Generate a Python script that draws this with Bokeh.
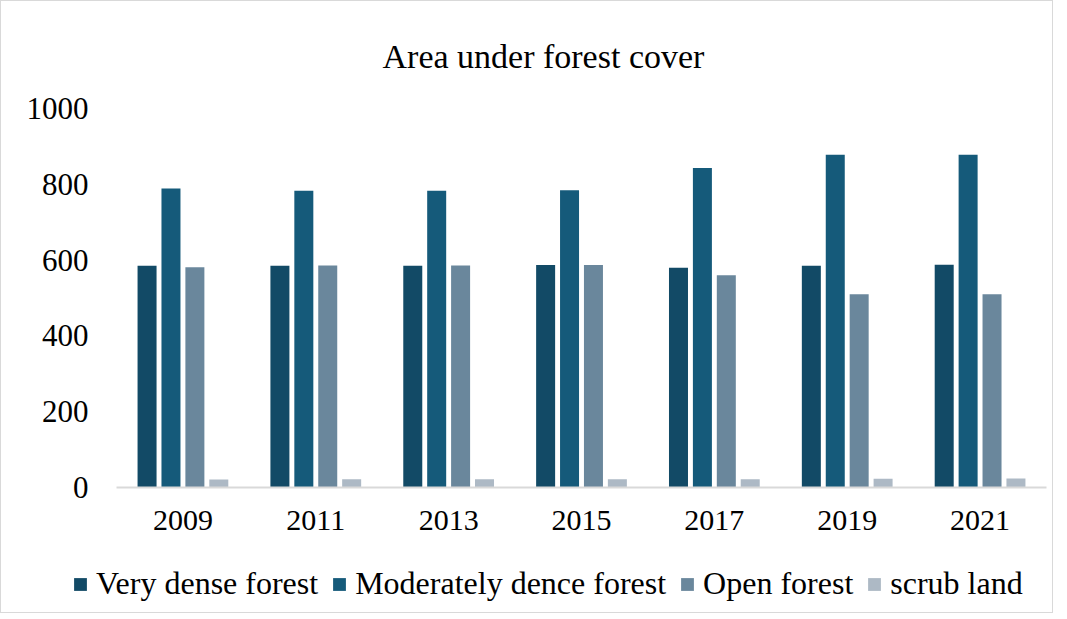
from bokeh.plotting import figure
from bokeh.models import ColumnDataSource, FactorRange, Range1d, Legend, LegendItem, SingleIntervalTicker
from bokeh.layouts import column
from bokeh.transform import dodge
from bokeh.embed import file_html
from bokeh.resources import INLINE

years = ["2009", "2011", "2013", "2015", "2017", "2019", "2021"]
very_dense = [585, 585, 585, 587, 580, 585, 588]
moderately_dense = [789, 783, 783, 784, 843, 878, 878]
open_forest = [581, 586, 586, 587, 560, 510, 510]
scrub_land = [21, 22, 22, 22, 22, 23, 24]

series_names = ["Very dense forest", "Moderately dence forest", "Open forest", "scrub land"]
colors = ["#124A66", "#155A7A", "#6A879C", "#ADB9C5"]

source = ColumnDataSource(data=dict(years=years, vd=very_dense, md=moderately_dense,
                                    of=open_forest, sl=scrub_land))

FONT = "Liberation Serif"

p = figure(x_range=FactorRange(*years, range_padding=0), y_range=Range1d(0, 1000),
           width=1051, height=540, output_backend="svg", toolbar_location=None,
           min_border_left=115, min_border_right=6, min_border_top=105, min_border_bottom=54)
p.frame_align = False

p.title.text = "Area under forest cover"
p.title.align = "left"
p.title.offset = 266
p.title.text_font = FONT
p.title.text_font_style = "normal"
p.title.text_font_size = "34px"
p.title.text_color = "#000000"
p.title.standoff = 68

cols = ["vd", "md", "of", "sl"]
offsets = [-0.27, -0.09, 0.09, 0.27]
for c, off, col in zip(cols, offsets, colors):
    p.vbar(x=dodge("years", off, range=p.x_range), top=c, width=0.143, source=source,
           fill_color=col, line_color=None)

p.xgrid.grid_line_color = None
p.ygrid.grid_line_color = None
p.outline_line_color = None

p.yaxis.ticker = SingleIntervalTicker(interval=200)
p.yaxis.axis_line_color = None
p.yaxis.major_tick_line_color = None
p.yaxis.minor_tick_line_color = None
p.yaxis.major_label_text_font = FONT
p.yaxis.major_label_text_font_size = "31px"
p.yaxis.major_label_text_color = "#000000"
p.yaxis.major_label_standoff = 22

p.xaxis.axis_line_color = "#D9D9D9"
p.xaxis.axis_line_width = 2
p.xaxis.major_tick_line_color = None
p.xaxis.minor_tick_line_color = None
p.xaxis.major_label_text_font = FONT
p.xaxis.major_label_text_font_size = "30px"
p.xaxis.major_label_text_color = "#000000"
p.xaxis.major_label_standoff = 17

# legend strip below the chart
p2 = figure(x_range=Range1d(0, 1), y_range=Range1d(0, 1), width=1051, height=71,
            output_backend="svg", toolbar_location=None, x_axis_type=None, y_axis_type=None,
            min_border=0)
p2.frame_align = False
p2.outline_line_color = None
p2.xgrid.grid_line_color = None
p2.ygrid.grid_line_color = None
items = []
for name, col in zip(series_names, colors):
    r = p2.vbar(x=[-10], top=[-10], width=1, fill_color=col, line_color=None)
    items.append(LegendItem(label=name, renderers=[r]))
legend = Legend(items=items, orientation="horizontal", location=(71, 10))
legend.label_text_font = FONT
legend.label_text_font_size = "32px"
legend.label_text_color = "#000000"
legend.glyph_width = 16
legend.glyph_height = 16
legend.label_standoff = 8
legend.spacing = 13
legend.border_line_color = None
legend.background_fill_alpha = 0
legend.padding = 0
legend.margin = 0
p2.add_layout(legend, "center")

layout = column(p, p2, spacing=0)
layout.styles = {"border": "1px solid #D9D9D9"}

open("out.html", "w").write(file_html(layout, INLINE))
